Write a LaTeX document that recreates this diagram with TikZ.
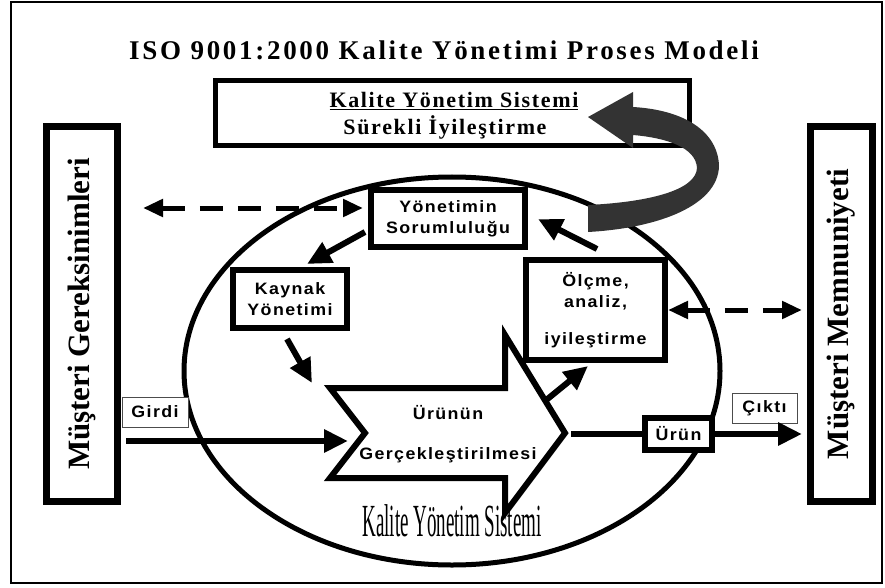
\documentclass[tikz,border=0pt]{standalone}
\usepackage{fontspec}
\setmainfont{Liberation Serif}
\newfontfamily\boxsans{Liberation Sans}[LetterSpace=8.5,FakeStretch=1.08]
\newfontfamily\titleserif{Liberation Serif}[LetterSpace=10]
\newfontfamily\headserif{Liberation Serif}[LetterSpace=7.5]
\usetikzlibrary{arrows.meta}

\tikzset{
  thickbox/.style={draw, line width=6pt, fill=white, inner sep=0pt, align=center,
    font=\boxsans\bfseries\fontsize{16.5}{21}\selectfont},
  sidebox/.style={draw, line width=7pt, fill=white, inner sep=0pt},
  tagbox/.style={draw=black!70, line width=1pt, fill=white, inner sep=0pt,
    font=\boxsans\bfseries\fontsize{16.5}{18}\selectfont},
  sidetext/.style={rotate=90, font=\bfseries\fontsize{31}{32}\selectfont},
  flow/.style={line width=6pt, -{Triangle[length=24pt,width=22pt]}},
  exchange/.style={line width=5pt, dash pattern=on 23pt off 15pt,
    {Triangle[length=20pt,width=17pt]}-{Triangle[length=20pt,width=17pt]}},
  plain/.style={inner sep=0pt, font=\boxsans\bfseries\fontsize{16.5}{18}\selectfont}
}

\begin{document}
\begin{tikzpicture}[x=1pt,y=-1pt]
\useasboundingbox (0,0) rectangle (885,588);

% outer frame
\draw[line width=2.5pt] (11,2) rectangle (882,583);

% title
\node[anchor=base, inner sep=0pt, font=\titleserif\bfseries\fontsize{27}{27}\selectfont]
  (title) at (444,60) {ISO 9001:2000 Kalite Yönetimi Proses Modeli};

% continual improvement box
\node[draw, line width=5pt, minimum width=474pt, minimum height=65pt, inner sep=0pt]
  (kys) at (452.5,113) {};
\node[anchor=base, inner sep=0pt, font=\headserif\bfseries\fontsize{22}{22}\selectfont]
  (kysa) at (454,108) {\underline{Kalite Yönetim Sistemi}};
\node[anchor=base, inner sep=0pt, font=\headserif\bfseries\fontsize{22}{22}\selectfont]
  (kysb) at (445,135) {Sürekli İyileştirme};

% customer boxes
\node[sidebox, minimum width=71pt, minimum height=375pt] (req) at (82,314) {};
\node[sidetext] at (req.center) {Müşteri Gereksinimleri};
\node[sidebox, minimum width=62pt, minimum height=375pt] (sat) at (841.5,314) {};
\node[sidetext] at (sat.center) {Müşteri Memnuniyeti};

% quality management system ellipse
\draw[line width=5pt] (452,371) ellipse [x radius=268, y radius=194];

% system label
\node[anchor=base, inner sep=0pt] (kyslabel) at (452,536)
  {\scalebox{0.95}[2.3]{\fontsize{20}{20}\selectfont Kalite Yönetim Sistemi}};

% process boxes
\node[thickbox, minimum width=154pt, minimum height=57pt] (yon) at (448,218.5)
  {Yönetimin\\Sorumluluğu};
\node[thickbox, minimum width=114pt, minimum height=58pt] (kay) at (290,299)
  {Kaynak\\Yönetimi};
\node[thickbox, minimum width=139pt, minimum height=100pt] (olc) at (595.5,310)
  {Ölçme,\\analiz,\\[16pt]iyileştirme};

% product realisation arrow
\draw[line width=6pt, line join=miter, fill=white]
  (330,388) -- (505,388) -- (505,335) -- (565,433) -- (505,513) -- (505,478)
  -- (330,478) -- (365,433) -- cycle;
\node[plain] (ur1) at (448,413) {Ürünün};
\node[plain] (ur2) at (448,455) {Gerçekleştirilmesi};

% product box and labels
\node[thickbox, minimum width=67pt, minimum height=32pt] (urun) at (678.5,434) {Ürün};
\node[tagbox, minimum width=66pt, minimum height=30pt] (girdi) at (155,412) {Girdi};
\node[tagbox, minimum width=65pt, minimum height=30pt] (cikti) at (764.5,408) {Çıktı};

% connector end points
\coordinate (inS) at (126,441);
\coordinate (inE) at (348,441);
\coordinate (outS) at (571,434);
\coordinate (outE) at (802,434);
\coordinate (y2kS) at (365,232);
\coordinate (y2kE) at (307,264);
\coordinate (k2uS) at (287,339);
\coordinate (k2uE) at (312,383);
\coordinate (u2oS) at (545,401);
\coordinate (u2oE) at (588,366);
\coordinate (o2yS) at (597,249);
\coordinate (o2yE) at (538,219);
\coordinate (dlS) at (143,208);
\coordinate (dlE) at (363,208);
\coordinate (drS) at (668,310);
\coordinate (drE) at (802,310);

% flows
\draw[flow] (inS) -- (inE);
\draw[line width=6pt] (outS) -- (urun.west);
\draw[flow] (urun.east) -- (outE);
\draw[flow] (y2kS) -- (y2kE);
\draw[flow] (k2uS) -- (k2uE);
\draw[flow] (u2oS) -- (u2oE);
\draw[flow] (o2yS) -- (o2yE);
\draw[exchange] (dlS) -- (dlE);
\draw[exchange] (drS) -- (drE);

% continual improvement loop arrow
\fill[black!80]
  (633,107) .. controls (685,110) and (718,132) .. (719,166)
  .. controls (718,205) and (660,228) .. (588,232)
  -- (588,205)
  .. controls (650,202) and (696,190) .. (697,168)
  .. controls (696,148) and (668,138) .. (633,135)
  -- (633,148) -- (588,117) -- (633,92) -- cycle;
\end{tikzpicture}
\end{document}
